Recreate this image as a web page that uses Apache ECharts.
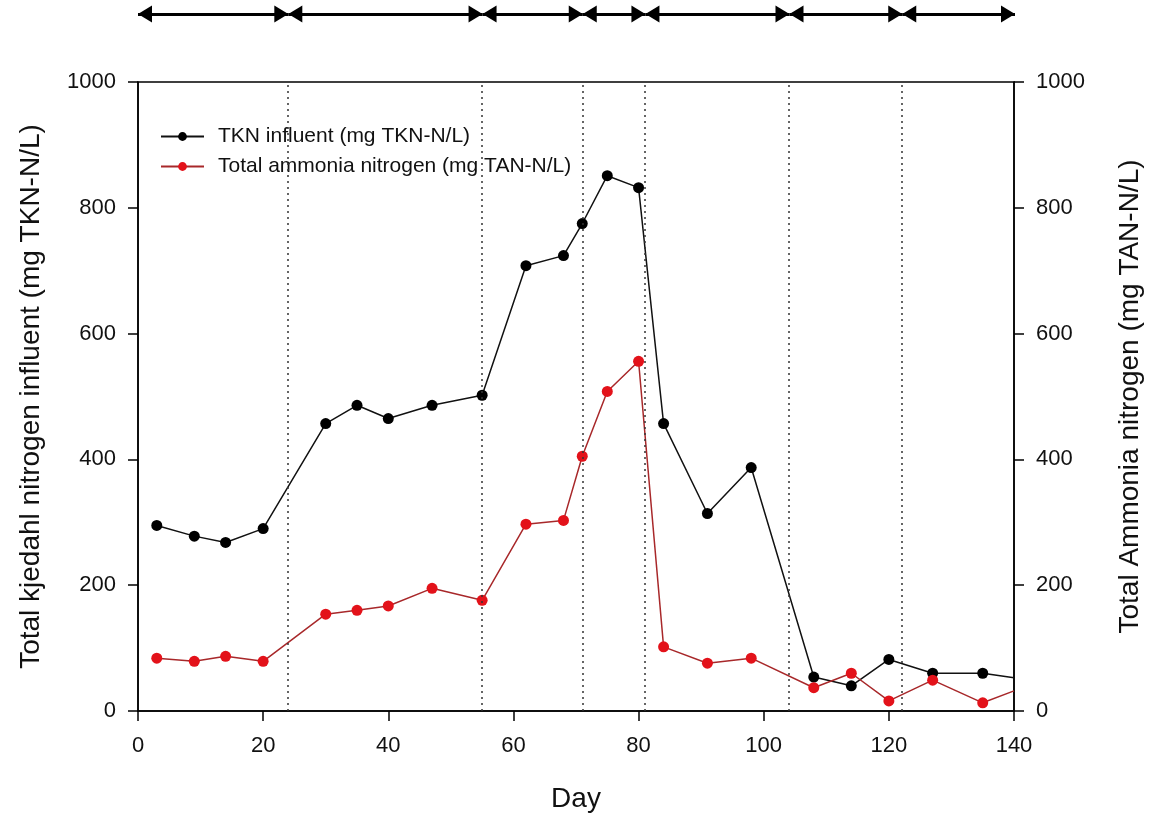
<!DOCTYPE html>
<html>
<head>
<meta charset="utf-8">
<script src="https://cdn.jsdelivr.net/npm/echarts@6/dist/echarts.min.js"></script>
<style>html,body{margin:0;padding:0;background:#fff}#c{width:1152px;height:818px}</style>
</head>
<body>
<div id="c"></div>
<script>
const days = [3, 9, 14, 20, 30, 35, 40, 47, 55, 62, 68, 71, 75, 80, 84, 91, 98, 108, 114, 120, 127, 135, 140];
const tkn = [295, 278, 268, 290, 457, 486, 465, 486, 502, 708, 724, 775, 851, 832, 457, 314, 387, 54, 40, 82, 60, 60, 53];
const tan = [84, 79, 87, 79, 154, 160, 167, 195, 176, 297, 303, 405, 508, 556, 102, 76, 84, 37, 60, 16, 49, 13, 32];
const phaseBounds = [0, 24, 55, 71, 81, 104, 122, 140];
const xTicks = [0, 20, 40, 60, 80, 100, 120, 140];
const yTicks = [0, 200, 400, 600, 800, 1000];

const FONT = 'Liberation Sans, Arial, sans-serif';
function pts(vals) {
  return days.map((d, i) => {
    const p = { value: [d, vals[i]] };
    if (i === days.length - 1) p.symbol = 'none';
    return p;
  });
}
const arrowData = [];
for (let i = 0; i < phaseBounds.length - 1; i++) {
  arrowData.push([{ coord: [phaseBounds[i], 0.5] }, { coord: [phaseBounds[i + 1], 0.5] }]);
}
const dividers = phaseBounds.slice(1, -1).map(d => [{ coord: [d, 0] }, { coord: [d, 1000] }]);

const tickLabel = { fontFamily: FONT, fontSize: 22, color: '#111', margin: 24, formatter: v => String(v) };
const titleStyle = { fontFamily: FONT, fontSize: 28, color: '#111' };
const axLine = { show: true, lineStyle: { color: '#000', width: 1.5 } };
const axTick = { show: true, length: 10, lineStyle: { color: '#000', width: 1.5 } };

const chart = echarts.init(document.getElementById('c'), null, { renderer: 'canvas' });
chart.setOption({
  animation: false,
  backgroundColor: '#fff',
  textStyle: { fontFamily: FONT },
  legend: {
    left: 155, top: 121, orient: 'vertical', itemGap: 9, itemWidth: 43, itemHeight: 11,
    textStyle: { fontFamily: FONT, fontSize: 21, color: '#111', padding: [0, 0, 0, 9] },
    data: ['TKN influent (mg TKN-N/L)', 'Total ammonia nitrogen (mg TAN-N/L)']
  },
  grid: [
    { left: 138, right: 137, top: 82, bottom: 106, show: true, borderColor: '#000', borderWidth: 1.5, backgroundColor: 'transparent' },
    { left: 138, right: 137, top: 6, height: 16 }
  ],
  xAxis: [
    {
      type: 'value', min: 0, max: 140, interval: 20, gridIndex: 0,
      name: 'Day', nameLocation: 'middle', nameGap: 74, nameTextStyle: titleStyle,
      axisLine: axLine, axisTick: axTick, axisLabel: tickLabel,
      splitLine: { show: false }
    },
    { type: 'value', min: 0, max: 140, gridIndex: 1, show: false }
  ],
  yAxis: [
    {
      type: 'value', min: 0, max: 1000, interval: 200, gridIndex: 0,
      name: 'Total kjedahl nitrogen influent (mg TKN-N/L)', nameLocation: 'middle', nameGap: 93, nameRotate: 90,
      nameTextStyle: titleStyle,
      axisLine: axLine, axisTick: axTick, axisLabel: Object.assign({}, tickLabel, { margin: 22 }),
      splitLine: { show: false }
    },
    {
      type: 'value', min: 0, max: 1000, interval: 200, gridIndex: 0, position: 'right',
      name: 'Total Ammonia nitrogen (mg TAN-N/L)', nameLocation: 'middle', nameGap: 102, nameRotate: 90,
      nameTextStyle: titleStyle,
      axisLine: axLine, axisTick: axTick, axisLabel: Object.assign({}, tickLabel, { margin: 22 }),
      splitLine: { show: false }
    },
    { type: 'value', min: 0, max: 1, gridIndex: 1, show: false }
  ],
  series: [
    {
      name: 'TKN influent (mg TKN-N/L)', type: 'line', xAxisIndex: 0, yAxisIndex: 0,
      data: pts(tkn), symbol: 'circle', symbolSize: 11, clip: true,
      itemStyle: { color: '#000' }, lineStyle: { color: '#111', width: 1.5 },
      markLine: {
        silent: true, symbol: ['none', 'none'], label: { show: false },
        lineStyle: { color: '#333', type: [2, 4], width: 1.5 },
        data: dividers
      }
    },
    {
      name: 'Total ammonia nitrogen (mg TAN-N/L)', type: 'line', xAxisIndex: 0, yAxisIndex: 1,
      data: pts(tan), symbol: 'circle', symbolSize: 11, clip: true,
      itemStyle: { color: '#e3121a' }, lineStyle: { color: '#a8282a', width: 1.5 }
    },
    {
      type: 'line', xAxisIndex: 1, yAxisIndex: 2, data: [[0, 0.5]], showSymbol: false,
      lineStyle: { opacity: 0 }, silent: true,
      markLine: {
        silent: true, symbol: ['triangle', 'triangle'], symbolSize: [17, 14],
        symbolOffset: [[0, 7], [0, 7]], label: { show: false },
        lineStyle: { color: '#000', type: 'solid', width: 3 },
        data: arrowData
      }
    }
  ]
});
</script>
</body>
</html>
